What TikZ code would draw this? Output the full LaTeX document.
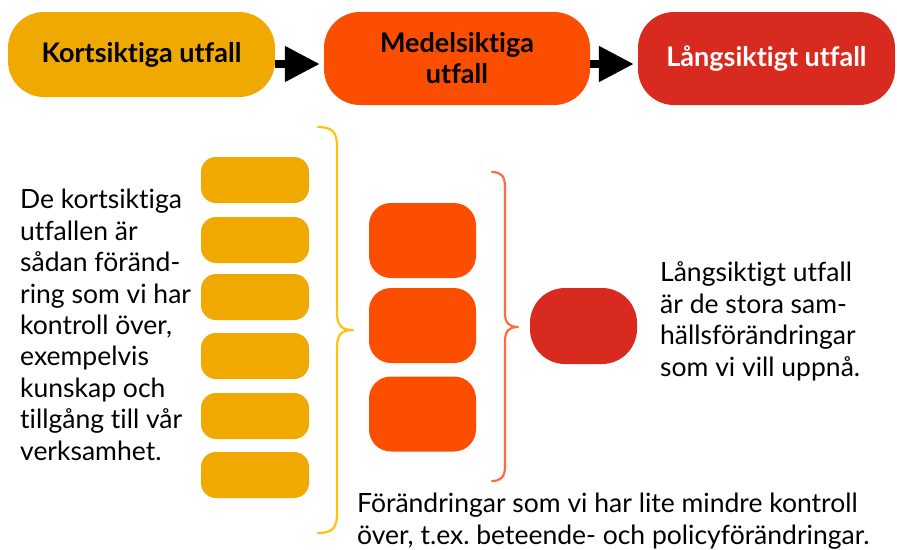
\documentclass[tikz,border=0pt]{standalone}
\usepackage{fontspec}
\setmainfont{Lato}[Ligatures=NoCommon]
\usetikzlibrary{arrows.meta}
\definecolor{cyel}{HTML}{F0A900}
\definecolor{corg}{HTML}{FC4E00}
\definecolor{cred}{HTML}{D92A1F}
\definecolor{bryel}{HTML}{FFC20E}
\definecolor{brorg}{HTML}{FF6B3D}
\frenchspacing
\begin{document}
\begin{tikzpicture}[x=1pt,y=-1pt,
  topbox/.style={inner sep=0pt, rounded corners=36pt, align=center,
    font=\fontsize{27}{31}\selectfont\bfseries},
  ybox/.style={fill=cyel, minimum width=108pt, minimum height=46pt, rounded corners=15pt, inner sep=0pt},
  obox/.style={fill=corg, minimum width=107pt, minimum height=75pt, rounded corners=22pt, inner sep=0pt},
  rbox/.style={fill=cred, minimum width=107pt, minimum height=76pt, rounded corners=35pt, inner sep=0pt},
  arr/.style={line width=8pt, -{Triangle[length=35pt,width=34pt]}, shorten >=4pt},
  body/.style={inner sep=0pt, align=left, font=\fontsize{26.5}{31.4}\selectfont},
  brace/.style={line width=2.2pt, line cap=round, line join=round}
]
\useasboundingbox (0,0) rectangle (897,549);
% top row
\node[topbox, fill=cyel, minimum width=267pt, minimum height=85pt] (k) at (141.5,54.5) {Kortsiktiga utfall};
\node[topbox, fill=corg, minimum width=266pt, minimum height=93pt] (m) at (457,58.5) {Medelsiktiga\\utfall};
\node[topbox, fill=cred, text=white, minimum width=257pt, minimum height=93pt] (l) at (766.5,58.5) {Långsiktigt utfall};
\coordinate (ay) at (0,64);
\draw[arr] (k.east |- ay) -- (m.west |- ay);
\draw[arr] (m.east |- ay) -- (l.west |- ay);
% short-term boxes
\node[ybox] (y1) at (255,180) {};
\node[ybox] (y2) at (255,240) {};
\node[ybox] (y3) at (255,297) {};
\node[ybox] (y4) at (255,356) {};
\node[ybox] (y5) at (255,416) {};
\node[ybox] (y6) at (255,475) {};
% medium-term boxes
\node[obox] (o1) at (422.5,240.5) {};
\node[obox] (o2) at (422.5,325.5) {};
\node[obox] (o3) at (422.5,414) {};
% long-term
\node[rbox] (r1) at (583.5,326) {};
% braces
\draw[brace, bryel] (318,127) .. controls (332,127) and (337,132) .. (337,146)
  -- (337,312) .. controls (337,325) and (341,330) .. (353,330)
  .. controls (341,330) and (337,335) .. (337,348)
  -- (337,514) .. controls (337,528) and (332,533) .. (318,533);
\draw[brace, brorg] (492,172) .. controls (501,172) and (505,176) .. (505,187)
  -- (505,313) .. controls (505,323) and (509,327) .. (518,327)
  .. controls (509,327) and (505,331) .. (505,341)
  -- (505,466) .. controls (505,477) and (501,481) .. (492,481);
% texts (base anchor = baseline of the last line)
\node[body, anchor=base west] (lt) at (20,460) {De kortsiktiga\\utfallen är\\sådan föränd-\\ring som vi har\\kontroll över,\\exempelvis\\kunskap och\\tillgång till vår\\verksamhet.};
\node[body, anchor=base west] (rt) at (660,376) {Långsiktigt utfall\\är de stora sam-\\hällsförändringar\\som vi vill uppnå.};
\node[body, anchor=base west] (bt) at (357,544) {Förändringar som vi har lite mindre kontroll\\över, t.ex. beteende- och policyförändringar.};
\end{tikzpicture}
\end{document}
